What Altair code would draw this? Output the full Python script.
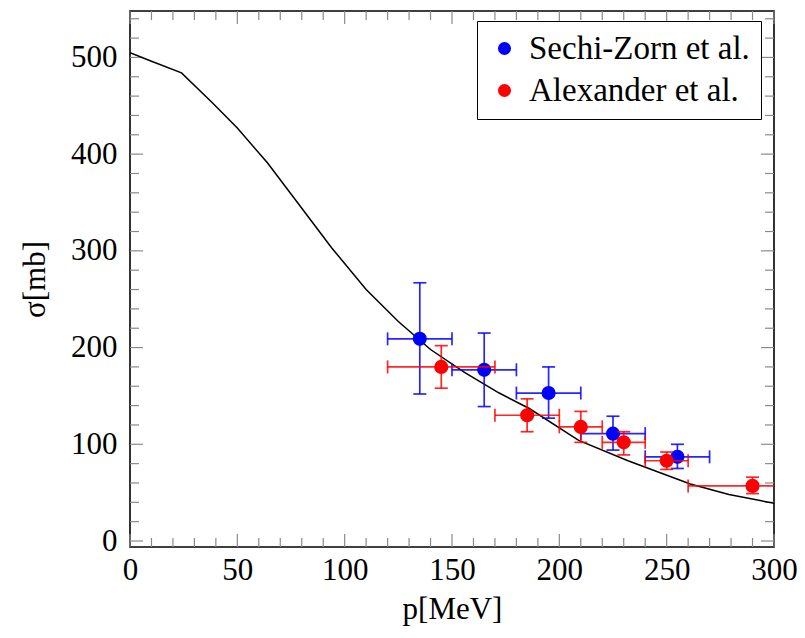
import altair as alt
import pandas as pd

# ---- data ----
curve_p = [0, 10, 24, 38, 50, 64, 78, 94, 110, 125, 140, 156, 172, 186, 209, 232, 261, 279, 300]
curve_sigma = [505, 496, 484, 454, 427, 391, 350, 303, 260, 227, 198, 174, 153, 137, 104, 83, 59, 48, 39]

sz_label = "Sechi-Zorn et al."
sz_p = [135, 165, 195, 225, 255]
sz_p_lo = [120, 150, 180, 210, 240]
sz_p_hi = [150, 180, 210, 240, 270]
sz_sigma = [209, 177, 153, 111, 87]
sz_sigma_lo = [152, 139, 127, 94, 75]
sz_sigma_hi = [267, 215, 180, 129, 100]

al_label = "Alexander et al."
al_p = [145, 185, 210, 230, 250, 290]
al_p_lo = [120, 170, 200, 220, 240, 260]
al_p_hi = [170, 200, 220, 240, 260, 320]
al_sigma = [180, 130, 118, 102, 83, 57]
al_sigma_lo = [158, 113, 102, 89, 74, 49]
al_sigma_hi = [202, 147, 134, 113, 92, 66]

x_major = [0, 50, 100, 150, 200, 250, 300]
x_minor = [v for v in range(10, 300, 10) if v % 50 != 0]
y_major = [0, 100, 200, 300, 400, 500]
y_minor = [v for v in range(20, 541, 20) if v % 100 != 0]

FONT = "Liberation Serif"
FS = 31
W, H = 644, 536
BLUE, RED = "#0000ff", "#ff0000"

xs = alt.Scale(domain=[0, 300], nice=False, zero=False)
ys = alt.Scale(domain=[-6.2, 548], nice=False, zero=False)
xax = alt.Axis(values=x_major, labelPadding=8, labelFlush=False, title="p[MeV]", titleX=W / 2,
               titleY=62, titleBaseline="middle", titleAlign="center")
yax = alt.Axis(values=y_major, labelPadding=13, labelFlush=False, title="σ[mb]", titleX=-95,
               titleY=H / 2, titleAngle=-90, titleBaseline="middle", titleAlign="center")


def X(f):
    return alt.X(f, type="quantitative", scale=xs, axis=xax)


def Y(f):
    return alt.Y(f, type="quantitative", scale=ys, axis=yax)


def series_df(label, p, plo, phi, s, slo, shi):
    return pd.DataFrame({"series": label, "p": p, "plo": plo, "phi": phi,
                         "s": s, "slo": slo, "shi": shi})


sz_df = series_df(sz_label, sz_p, sz_p_lo, sz_p_hi, sz_sigma, sz_sigma_lo, sz_sigma_hi)
al_df = series_df(al_label, al_p, al_p_lo, al_p_hi, al_sigma, al_sigma_lo, al_sigma_hi)

color_scale = alt.Scale(domain=[sz_label, al_label], range=[BLUE, RED])
legend = alt.Legend(title=None, orient="none", legendX=347, legendY=10,
                    direction="vertical", strokeColor="black", fillColor="white",
                    padding=11, cornerRadius=0, symbolType="circle", symbolSize=170,
                    symbolStrokeWidth=0, symbolOpacity=1, labelFont=FONT,
                    labelFontSize=33, labelLimit=500, rowPadding=8, labelOffset=8,
                    labelColor="black")


def series_layers(df, color):
    eb = dict(color=color, opacity=0.85, clip=True)
    sw = 1.7
    vbar = alt.Chart(df).mark_rule(strokeWidth=sw, **eb).encode(x=X("p"), y=Y("slo"), y2="shi")
    hbar = alt.Chart(df).mark_rule(strokeWidth=sw, **eb).encode(x=X("plo"), x2="phi", y=Y("s"))
    cap_lo = alt.Chart(df).mark_tick(orient="horizontal", size=13, thickness=sw, **eb).encode(x=X("p"), y=Y("slo"))
    cap_hi = alt.Chart(df).mark_tick(orient="horizontal", size=13, thickness=sw, **eb).encode(x=X("p"), y=Y("shi"))
    cap_l = alt.Chart(df).mark_tick(orient="vertical", size=13, thickness=sw, **eb).encode(x=X("plo"), y=Y("s"))
    cap_r = alt.Chart(df).mark_tick(orient="vertical", size=13, thickness=sw, **eb).encode(x=X("phi"), y=Y("s"))
    pts = alt.Chart(df).mark_circle(size=200, opacity=1, clip=True).encode(
        x=X("p"), y=Y("s"),
        color=alt.Color("series:N", scale=color_scale, legend=legend))
    return [vbar, hbar, cap_lo, cap_hi, cap_l, cap_r, pts]


TICK_COLOR = "#8a8a8a"


def xticks(vals, length):
    d = pd.DataFrame({"v": vals})
    b = alt.Chart(d).mark_rule(color=TICK_COLOR, strokeWidth=1.2).encode(
        x=X("v"), y=alt.value(H), y2=alt.value(H - length))
    t = alt.Chart(d).mark_rule(color=TICK_COLOR, strokeWidth=1.2).encode(
        x=X("v"), y=alt.value(0), y2=alt.value(length))
    return [b, t]


def yticks(vals, length):
    d = pd.DataFrame({"v": vals})
    l = alt.Chart(d).mark_rule(color=TICK_COLOR, strokeWidth=1.2).encode(
        y=Y("v"), x=alt.value(0), x2=alt.value(length))
    r = alt.Chart(d).mark_rule(color=TICK_COLOR, strokeWidth=1.2).encode(
        y=Y("v"), x=alt.value(W), x2=alt.value(W - length))
    return [l, r]


curve_df = pd.DataFrame({"p": curve_p, "s": curve_sigma})
curve = alt.Chart(curve_df).mark_line(color="black", strokeWidth=1.5, clip=True).encode(
    x=X("p"), y=Y("s"))

layers = (xticks(x_major, 13) + xticks(x_minor, 9) + yticks(y_major, 13) + yticks(y_minor, 9)
          + [curve] + series_layers(sz_df, BLUE) + series_layers(al_df, RED))

chart = alt.layer(*layers).properties(
    width=W, height=H,
    autosize=alt.AutoSizeParams(type="none"),
    padding={"left": 122, "top": 3, "right": 23, "bottom": 80},
).configure_view(stroke="black", strokeWidth=1.6).configure_axis(
    grid=False, domain=False, ticks=False, labelFont=FONT, labelFontSize=FS,
    labelColor="black", titleFont=FONT, titleFontSize=FS, titleFontWeight="normal",
    titleColor="black")

chart.save("out.html", embed_options={"renderer": "svg", "actions": False})
